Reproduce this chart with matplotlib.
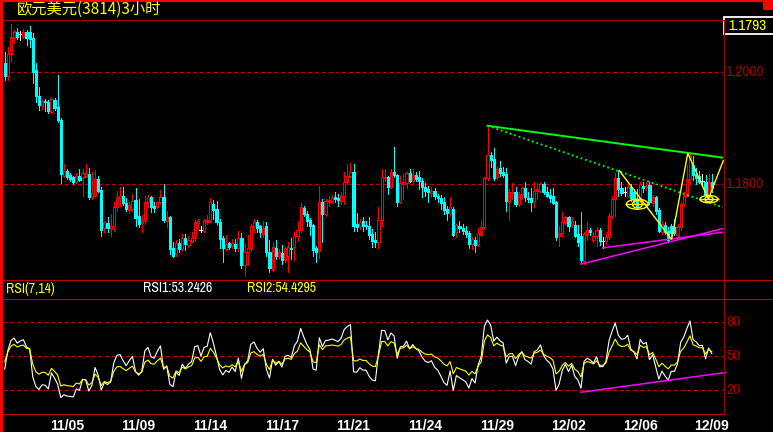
import numpy as np
import matplotlib
matplotlib.use("Agg")
import matplotlib.pyplot as plt
from matplotlib import font_manager
from matplotlib.font_manager import FontProperties
from matplotlib.patches import Rectangle, Ellipse

# EUR/USD 3-hour bars
opens = [1.2016, 1.1993, 1.2032, 1.2062, 1.2071, 1.2068, 1.2062, 1.2071, 1.2071, 1.2061,
         1.2004, 1.1957, 1.1939, 1.1948, 1.1946, 1.1929, 1.1950, 1.1938, 1.1914, 1.1814,
         1.1823, 1.1816, 1.1812, 1.1804, 1.1814, 1.1812, 1.1814, 1.1818, 1.1777, 1.1779,
         1.1809, 1.1789, 1.1721, 1.1730, 1.1720, 1.1725, 1.1759, 1.1775, 1.1779, 1.1766,
         1.1754, 1.1755, 1.1771, 1.1743, 1.1730, 1.1734, 1.1768, 1.1777, 1.1761, 1.1759,
         1.1768, 1.1777, 1.1734, 1.1741, 1.1686, 1.1675, 1.1695, 1.1684, 1.1704, 1.1691,
         1.1698, 1.1704, 1.1730, 1.1718, 1.1716, 1.1732, 1.1734, 1.1764, 1.1755, 1.1732,
         1.1704, 1.1684, 1.1695, 1.1689, 1.1693, 1.1686, 1.1704, 1.1655, 1.1679, 1.1684,
         1.1725, 1.1732, 1.1725, 1.1711, 1.1725, 1.1679, 1.1646, 1.1686, 1.1671, 1.1677,
         1.1664, 1.1671, 1.1686, 1.1688, 1.1707, 1.1718, 1.1757, 1.1746, 1.1736, 1.1727,
         1.1686, 1.1680, 1.1768, 1.1746, 1.1768, 1.1770, 1.1777, 1.1775, 1.1770, 1.1779,
         1.1804, 1.1814, 1.1821, 1.1729, 1.1725, 1.1734, 1.1727, 1.1725, 1.1711, 1.1700,
         1.1696, 1.1736, 1.1811, 1.1812, 1.1795, 1.1821, 1.1816, 1.1768, 1.1800, 1.1802,
         1.1820, 1.1805, 1.1816, 1.1812, 1.1805, 1.1795, 1.1791, 1.1784, 1.1788, 1.1779,
         1.1775, 1.1768, 1.1755, 1.1748, 1.1755, 1.1714, 1.1725, 1.1721, 1.1716, 1.1713,
         1.1693, 1.1700, 1.1691, 1.1709, 1.1723, 1.1811, 1.1852, 1.1845, 1.1812, 1.1829,
         1.1821, 1.1818, 1.1768, 1.1784, 1.1786, 1.1764, 1.1782, 1.1793, 1.1775, 1.1775,
         1.1770, 1.1788, 1.1788, 1.1800, 1.1786, 1.1780, 1.1779, 1.1768, 1.1707, 1.1713,
         1.1730, 1.1741, 1.1729, 1.1727, 1.1711, 1.1707, 1.1663, 1.1709, 1.1718, 1.1700,
         1.1707, 1.1718, 1.1698, 1.1698, 1.1705, 1.1743, 1.1773, 1.1811, 1.1793, 1.1786,
         1.1779, 1.1795, 1.1786, 1.1773, 1.1773, 1.1796, 1.1795, 1.1798, 1.1766, 1.1777,
         1.1754, 1.1714, 1.1727, 1.1716, 1.1725, 1.1723, 1.1709, 1.1723, 1.1764, 1.1779,
         1.1809, 1.1834, 1.1818, 1.1814, 1.1805, 1.1804, 1.1779, 1.1804]
highs = [1.2036, 1.2045, 1.2086, 1.2075, 1.2079, 1.2073, 1.2077, 1.2075, 1.2082, 1.2070,
         1.2016, 1.1973, 1.1952, 1.1952, 1.1950, 1.1955, 1.1954, 1.1995, 1.1918, 1.1836,
         1.1827, 1.1820, 1.1814, 1.1820, 1.1827, 1.1827, 1.1836, 1.1829, 1.1821, 1.1825,
         1.1814, 1.1795, 1.1734, 1.1741, 1.1746, 1.1768, 1.1788, 1.1795, 1.1795, 1.1775,
         1.1768, 1.1782, 1.1793, 1.1773, 1.1745, 1.1779, 1.1780, 1.1779, 1.1768, 1.1770,
         1.1789, 1.1800, 1.1752, 1.1743, 1.1696, 1.1700, 1.1702, 1.1711, 1.1711, 1.1707,
         1.1714, 1.1736, 1.1738, 1.1725, 1.1738, 1.1745, 1.1775, 1.1771, 1.1770, 1.1738,
         1.1707, 1.1709, 1.1696, 1.1702, 1.1702, 1.1716, 1.1713, 1.1695, 1.1709, 1.1729,
         1.1738, 1.1736, 1.1727, 1.1734, 1.1732, 1.1700, 1.1696, 1.1700, 1.1684, 1.1691,
         1.1688, 1.1696, 1.1704, 1.1714, 1.1734, 1.1766, 1.1761, 1.1752, 1.1739, 1.1729,
         1.1689, 1.1796, 1.1773, 1.1773, 1.1779, 1.1780, 1.1786, 1.1782, 1.1786, 1.1821,
         1.1836, 1.1838, 1.1836, 1.1748, 1.1738, 1.1741, 1.1734, 1.1741, 1.1720, 1.1714,
         1.1759, 1.1827, 1.1827, 1.1814, 1.1827, 1.1866, 1.1818, 1.1814, 1.1818, 1.1821,
         1.1827, 1.1827, 1.1821, 1.1823, 1.1811, 1.1802, 1.1796, 1.1795, 1.1793, 1.1782,
         1.1780, 1.1777, 1.1761, 1.1777, 1.1759, 1.1729, 1.1734, 1.1729, 1.1725, 1.1716,
         1.1705, 1.1705, 1.1721, 1.1736, 1.1812, 1.1904, 1.1857, 1.1864, 1.1832, 1.1841,
         1.1830, 1.1829, 1.1791, 1.1802, 1.1795, 1.1786, 1.1795, 1.1804, 1.1786, 1.1793,
         1.1804, 1.1802, 1.1804, 1.1804, 1.1795, 1.1791, 1.1793, 1.1770, 1.1725, 1.1750,
         1.1743, 1.1743, 1.1741, 1.1734, 1.1727, 1.1750, 1.1714, 1.1732, 1.1721, 1.1714,
         1.1723, 1.1721, 1.1705, 1.1714, 1.1748, 1.1779, 1.1820, 1.1823, 1.1804, 1.1795,
         1.1798, 1.1800, 1.1791, 1.1791, 1.1804, 1.1804, 1.1804, 1.1804, 1.1780, 1.1779,
         1.1757, 1.1734, 1.1732, 1.1723, 1.1729, 1.1738, 1.1729, 1.1768, 1.1786, 1.1834,
         1.1855, 1.1850, 1.1829, 1.1823, 1.1818, 1.1816, 1.1818, 1.1818]
lows = [1.1986, 1.1986, 1.2018, 1.2052, 1.2059, 1.2057, 1.2061, 1.2048, 1.2045, 1.1980,
        1.1946, 1.1932, 1.1934, 1.1930, 1.1927, 1.1927, 1.1932, 1.1911, 1.1802, 1.1812,
        1.1809, 1.1805, 1.1800, 1.1802, 1.1805, 1.1779, 1.1812, 1.1773, 1.1773, 1.1777,
        1.1786, 1.1707, 1.1714, 1.1714, 1.1707, 1.1716, 1.1752, 1.1761, 1.1763, 1.1752,
        1.1748, 1.1752, 1.1725, 1.1723, 1.1714, 1.1729, 1.1759, 1.1750, 1.1750, 1.1757,
        1.1764, 1.1732, 1.1723, 1.1675, 1.1670, 1.1671, 1.1679, 1.1682, 1.1682, 1.1688,
        1.1696, 1.1698, 1.1720, 1.1714, 1.1714, 1.1729, 1.1732, 1.1738, 1.1729, 1.1686,
        1.1661, 1.1682, 1.1684, 1.1686, 1.1680, 1.1680, 1.1650, 1.1636, 1.1655, 1.1680,
        1.1714, 1.1714, 1.1705, 1.1705, 1.1671, 1.1643, 1.1645, 1.1666, 1.1666, 1.1657,
        1.1661, 1.1643, 1.1666, 1.1664, 1.1698, 1.1714, 1.1743, 1.1725, 1.1709, 1.1671,
        1.1661, 1.1668, 1.1696, 1.1743, 1.1761, 1.1766, 1.1768, 1.1761, 1.1764, 1.1764,
        1.1800, 1.1812, 1.1716, 1.1716, 1.1720, 1.1716, 1.1720, 1.1702, 1.1688, 1.1688,
        1.1686, 1.1725, 1.1805, 1.1782, 1.1793, 1.1812, 1.1761, 1.1766, 1.1773, 1.1793,
        1.1804, 1.1800, 1.1805, 1.1791, 1.1777, 1.1779, 1.1768, 1.1777, 1.1773, 1.1768,
        1.1755, 1.1746, 1.1736, 1.1743, 1.1707, 1.1705, 1.1714, 1.1711, 1.1705, 1.1686,
        1.1684, 1.1679, 1.1689, 1.1707, 1.1720, 1.1807, 1.1830, 1.1807, 1.1809, 1.1814,
        1.1812, 1.1752, 1.1736, 1.1773, 1.1761, 1.1761, 1.1773, 1.1770, 1.1768, 1.1752,
        1.1759, 1.1773, 1.1786, 1.1782, 1.1777, 1.1768, 1.1764, 1.1700, 1.1689, 1.1707,
        1.1729, 1.1716, 1.1723, 1.1705, 1.1689, 1.1661, 1.1657, 1.1700, 1.1709, 1.1696,
        1.1689, 1.1691, 1.1686, 1.1693, 1.1702, 1.1739, 1.1743, 1.1779, 1.1780, 1.1779,
        1.1777, 1.1770, 1.1764, 1.1755, 1.1768, 1.1786, 1.1789, 1.1764, 1.1761, 1.1746,
        1.1714, 1.1711, 1.1711, 1.1696, 1.1707, 1.1709, 1.1702, 1.1718, 1.1761, 1.1777,
        1.1800, 1.1807, 1.1800, 1.1802, 1.1798, 1.1779, 1.1770, 1.1786]
closes = [1.1993, 1.2032, 1.2062, 1.2071, 1.2062, 1.2068, 1.2071, 1.2061, 1.2059, 1.2000,
          1.1957, 1.1941, 1.1948, 1.1946, 1.1930, 1.1952, 1.1936, 1.1914, 1.1818, 1.1823,
          1.1812, 1.1809, 1.1804, 1.1814, 1.1807, 1.1820, 1.1818, 1.1777, 1.1784, 1.1809,
          1.1788, 1.1718, 1.1732, 1.1721, 1.1725, 1.1759, 1.1777, 1.1779, 1.1766, 1.1755,
          1.1763, 1.1770, 1.1739, 1.1729, 1.1734, 1.1768, 1.1775, 1.1759, 1.1757, 1.1768,
          1.1777, 1.1736, 1.1741, 1.1684, 1.1671, 1.1695, 1.1684, 1.1704, 1.1693, 1.1700,
          1.1704, 1.1732, 1.1734, 1.1718, 1.1734, 1.1736, 1.1768, 1.1754, 1.1732, 1.1702,
          1.1686, 1.1693, 1.1688, 1.1695, 1.1686, 1.1704, 1.1655, 1.1679, 1.1686, 1.1725,
          1.1732, 1.1721, 1.1714, 1.1721, 1.1679, 1.1650, 1.1688, 1.1671, 1.1679, 1.1664,
          1.1686, 1.1688, 1.1684, 1.1707, 1.1718, 1.1759, 1.1746, 1.1734, 1.1725, 1.1682,
          1.1679, 1.1768, 1.1746, 1.1770, 1.1771, 1.1775, 1.1773, 1.1771, 1.1779, 1.1804,
          1.1814, 1.1821, 1.1725, 1.1723, 1.1732, 1.1725, 1.1725, 1.1709, 1.1698, 1.1696,
          1.1736, 1.1812, 1.1812, 1.1795, 1.1821, 1.1816, 1.1768, 1.1802, 1.1804, 1.1820,
          1.1805, 1.1816, 1.1809, 1.1805, 1.1795, 1.1788, 1.1786, 1.1788, 1.1779, 1.1775,
          1.1766, 1.1754, 1.1748, 1.1759, 1.1709, 1.1727, 1.1721, 1.1716, 1.1711, 1.1693,
          1.1702, 1.1691, 1.1711, 1.1723, 1.1811, 1.1852, 1.1843, 1.1811, 1.1827, 1.1820,
          1.1816, 1.1770, 1.1786, 1.1786, 1.1764, 1.1782, 1.1793, 1.1777, 1.1773, 1.1768,
          1.1788, 1.1791, 1.1800, 1.1786, 1.1779, 1.1775, 1.1766, 1.1705, 1.1713, 1.1732,
          1.1741, 1.1725, 1.1734, 1.1707, 1.1696, 1.1664, 1.1711, 1.1718, 1.1714, 1.1707,
          1.1718, 1.1698, 1.1698, 1.1705, 1.1743, 1.1773, 1.1811, 1.1791, 1.1784, 1.1786,
          1.1795, 1.1775, 1.1770, 1.1759, 1.1800, 1.1793, 1.1796, 1.1768, 1.1777, 1.1752,
          1.1716, 1.1729, 1.1714, 1.1700, 1.1713, 1.1713, 1.1723, 1.1764, 1.1779, 1.1809,
          1.1850, 1.1816, 1.1811, 1.1804, 1.1805, 1.1780, 1.1804, 1.1793]

date_labels = ["11/05", "11/09", "11/14", "11/17", "11/21",
               "11/24", "11/29", "12/02", "12/06", "12/09"]
date_bars = [20, 43, 66, 89, 112, 135, 158, 181, 204, 227]
price_ticks = [1.2000, 1.1800]
rsi_ticks = [80, 50, 20]
last_price = "1.1793"
rsi1_text = "RSI1:53.2426"
rsi2_text = "RSI2:54.4295"

# hand-drawn studies on the chart: (bar index, price)
green_solid = ([155, 220], [1.1904, 1.1855])
green_dotted = ([155, 197], [1.1904, 1.1823])
magenta_low = ([185, 213], [1.1657, 1.1696])
magenta_high = ([192, 230.6], [1.1686, 1.1714])
zigzag_bars = [197.3, 214.1, 219.3, 225.9, 230.7]
zigzag_prices = [1.1824, 1.1701, 1.1855, 1.1773, 1.1842]
eye_marks = [(203.1, 1.1764, 7.0, 0.0018), (226.1, 1.1773, 5.8, 0.0013)]
rsi_trend = ([185, 231.5], [18, 35.5])

RED = "#ff0000"
DRED = "#a00000"
GRID = "#c80000"
CYAN = "#00ffff"
YELLOW = "#ffff00"
W, H = 773, 432


def has_font(name):
    try:
        font_manager.findfont(FontProperties(family=name), fallback_to_default=False)
        return True
    except Exception:
        return False


NARROW = next((f for f in ["Liberation Sans Narrow", "Archivo Narrow"] if has_font(f)),
              "Liberation Sans")


def rect(x0, y0, x1, y1):
    # pixel box -> figure fraction
    return [x0 / W, 1 - y1 / H, (x1 - x0) / W, (y1 - y0) / H]


def extend(line, x_end):
    (x0, x1), (y0, y1) = line
    k = (y1 - y0) / (x1 - x0)
    return [x0, x_end], [y0, y0 + k * (x_end - x0)]


def wilder(x, n, seed):
    out = np.empty(len(x))
    prev = seed
    for k, v in enumerate(x):
        prev = (v + (n - 1) * prev) / n
        out[k] = prev
    return out


o = np.array(opens)
hi = np.array(highs)
lo = np.array(lows)
c = np.array(closes)
idx = np.arange(len(c))

chg = np.diff(np.r_[o[0], c])
up = np.maximum(chg, 0)
mag = np.abs(chg)
rsi7 = wilder(up, 7, 0.0008) / wilder(mag, 7, 0.0017) * 100
rsi14 = wilder(up, 14, 0.0008) / wilder(mag, 14, 0.0016) * 100

fig = plt.figure(figsize=(W / 100, H / 100), dpi=100, facecolor="black")

x_lo, x_hi = -0.55, 230.6

# price panel
ax = fig.add_axes(rect(3, 19, 723, 279), facecolor="none")
ax.set_xlim(x_lo, x_hi)
ax.set_ylim(1.16304, 1.209464)
ax.axis("off")

for p in price_ticks:
    ax.axhline(p, color=GRID, lw=0.75, ls=(0, (4, 2.5)), zorder=1)
    ax.text(1.003, p, f"{p:.4f}", transform=ax.get_yaxis_transform(),
            color=DRED, fontsize=11, family=NARROW, va="center", ha="left", clip_on=False)

bw = 0.7
lw = 0.72
for i in idx:
    if c[i] > o[i]:
        ax.vlines(i, c[i], hi[i], color=RED, lw=lw, zorder=3, antialiased=False)
        ax.vlines(i, lo[i], o[i], color=RED, lw=lw, zorder=3, antialiased=False)
        ax.add_patch(Rectangle((i - bw / 2, o[i]), bw, c[i] - o[i], facecolor="black",
                               edgecolor=RED, lw=lw, zorder=3, antialiased=False))
    elif c[i] < o[i]:
        ax.vlines(i, lo[i], hi[i], color=CYAN, lw=lw, zorder=3, antialiased=False)
        ax.add_patch(Rectangle((i - bw / 2, c[i]), bw, o[i] - c[i], facecolor=CYAN,
                               edgecolor=CYAN, lw=lw, zorder=3, antialiased=False))
    else:
        ax.vlines(i, lo[i], hi[i], color="white", lw=lw, zorder=3, antialiased=False)
        ax.hlines(o[i], i - bw / 2 - 0.2, i + bw / 2 + 0.2, color="white", lw=lw,
                  zorder=3, antialiased=False)

gx, gy = extend(green_solid, x_hi)
ax.plot(gx, gy, color="#00ff00", lw=1.4, zorder=4)
gx, gy = extend(green_dotted, x_hi)
ax.plot(gx, gy, color="#00ff00", lw=1.3, ls=(0, (1, 1.6)), zorder=4)
mx, my = extend(magenta_low, x_hi)
ax.plot(mx, my, color="#ff00ff", lw=1.1, zorder=4)
ax.plot(magenta_high[0], magenta_high[1], color="#ff00ff", lw=1.1, zorder=4)
ax.plot(zigzag_bars, zigzag_prices, color=YELLOW, lw=1.0, zorder=5, clip_on=False)
for ex, ey, ew, eh in eye_marks:
    ax.add_patch(Ellipse((ex, ey), ew, eh, fill=False, edgecolor=YELLOW, lw=1.0, zorder=5))
    ax.add_patch(Ellipse((ex, ey), ew * 0.45, eh * 0.75, fill=False, edgecolor=YELLOW, lw=1.0, zorder=5))
    ax.hlines(ey, ex - ew * 0.55, ex + ew * 0.55, color=YELLOW, lw=1.0, zorder=5)

# RSI panel
rax = fig.add_axes(rect(3, 299, 723, 413), facecolor="none")
rax.set_xlim(x_lo, x_hi)
rax.set_ylim(-0.3, 100.3)
rax.axis("off")
for v in rsi_ticks:
    rax.axhline(v, color=GRID, lw=0.75, ls=(0, (4, 2.5)), zorder=1)
    rax.text(1.004, v, str(v), transform=rax.get_yaxis_transform(),
             color=DRED, fontsize=11, family=NARROW, va="center", ha="left", clip_on=False)
rax.plot(idx, rsi7, color="white", lw=0.8, zorder=3)
rax.plot(idx, rsi14, color=YELLOW, lw=0.8, zorder=4)
rax.plot(rsi_trend[0], rsi_trend[1], color="#ff00ff", lw=1.1, zorder=5, clip_on=False)
for lab, b in zip(date_labels, date_bars):
    rax.text(b, -0.11, lab, transform=rax.get_xaxis_transform(), color="white",
             fontsize=10, family="Liberation Sans", fontweight="bold",
             ha="center", va="center", clip_on=False)

# frame, header and labels in pixel coordinates
ov = fig.add_axes([0, 0, 1, 1], facecolor="none")
ov.set_xlim(0, W)
ov.set_ylim(H, 0)
ov.axis("off")
ov.add_patch(Rectangle((0, 0), 3, H, color=RED, lw=0))
ov.add_patch(Rectangle((0, 0), 763, 2, color=RED, lw=0))
ov.add_patch(Rectangle((763, 0), 10, 10, color=RED, lw=0))
ov.plot([3, 723.5], [19.5, 19.5], color=DRED, lw=0.8)
ov.plot([723.5, 723.5], [19.5, 413.5], color=DRED, lw=0.8)
ov.plot([3, W], [279.5, 279.5], color="#c00000", lw=0.8)
ov.plot([3, W], [298.5, 298.5], color="#c00000", lw=0.8)
ov.plot([3, 723.5], [413.5, 413.5], color="#c00000", lw=0.8)
ov.add_patch(Rectangle((723.5, 17), 50, 16.5, fill=False, edgecolor="white", lw=1.3))
ov.text(728, 25.5, last_price, color=YELLOW, fontsize=11, family=NARROW, va="center", ha="left")

ov.text(17, 9, "欧元美元(3814)3小时", color=YELLOW, fontsize=11,
        family=["Noto Sans CJK SC", "DejaVu Sans"], va="center", ha="left")
ov.text(6, 288.5, "RSI(7,14)", color=YELLOW, fontsize=10, family=NARROW, va="center", ha="left")
ov.text(143, 288.5, rsi1_text, color="white", fontsize=10, family=NARROW, va="center", ha="left")
ov.text(247, 288.5, rsi2_text, color=YELLOW, fontsize=10, family=NARROW, va="center", ha="left")

fig.savefig("out.png", dpi=100, facecolor="black")
